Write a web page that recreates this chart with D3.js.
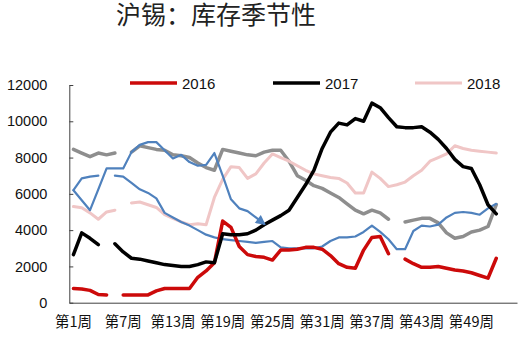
<!DOCTYPE html>
<html>
<head>
<meta charset="utf-8">
<script src="https://cdn.jsdelivr.net/npm/d3@7/dist/d3.min.js"></script>
<style>
  html, body { margin: 0; padding: 0; background: #fff; }
  svg { display: block; }
</style>
</head>
<body>
<svg id="chart" width="525" height="340"></svg>
<script>
// ---- data (weeks 1..52, null = missing week) ----
const weeks = d3.range(1, 53);
const tickWeeks = [1, 7, 13, 19, 25, 31, 37, 43, 49];
const yTicks = [0, 2000, 4000, 6000, 8000, 10000, 12000];
const title = "沪锡：库存季节性";

const s2016 = [780, 760, 680, 450, 430, null, 430, 430, 430, 430,
  650, 780, 780, 780, 780, 1400, 1750, 2200, 4500, 4150,
  3100, 2650, 2550, 2500, 2350, 2900, 2900, 2950, 3050, 3050,
  2950, 2600, 2150, 1950, 1900, 2900, 3600, 3650, 2700, null,
  2400, 2150, 1950, 1950, 2000, 1900, 1800, 1750, 1650, 1500,
  1350, 2450];

const s2017 = [2650, 3850, 3550, 3200, null, 3250, 2800, 2450, 2400, 2300,
  2200, 2100, 2050, 2000, 2000, 2100, 2250, 2200, 3800, 3750,
  3750, 3800, 4000, 4300, 4550, 4800, 5100, 5800, 6500, 7300,
  8500, 9400, 9900, 9800, 10150, 10000, 11000, 10750, 10200, 9700,
  9650, 9650, 9700, 9400, 9000, 8500, 7900, 7500, 7400, 6500,
  5400, 4900];

const s2018 = [5300, 5230, 4950, 4600, 5000, 5100, null, 5500, 5550, 5400,
  5250, 4850, 4650, 4450, 4300, 4350, 4300, 5800, 6800, 7500,
  7450, 6850, 7100, 7700, 8200, 8000, 7800, 7550, 7300, 7100,
  7000, 6900, 6850, 6600, 6050, 6050, 7200, 6850, 6400, 6500,
  6650, 7000, 7300, 7800, 8000, 8200, 8650, 8500, 8400, 8350,
  8300, 8250];

const sGray = [8450, 8250, 8050, 8250, 8150, 8250, null, 8300, 8650, 8550,
  8450, 8400, 8150, 8100, 8000, 7700, 7450, 7300, 8450, 8350,
  8250, 8150, 8100, 8300, 8400, 8400, 7800, 7000, 6750, 6450,
  6300, 6050, 5800, 5450, 5100, 4900, 5100, 4950, 4600, null,
  4450, 4550, 4650, 4650, 4400, 3850, 3550, 3650, 3900, 4000,
  4200, 5400];

const sBlueA = [6200, 6850, 6950, 7000, null, 7000, 6950, 6600, 6250, 6050,
  5750, 4950, 4700, 4450, 4250, 4000, 3750, 3600, 3500, 3450,
  3400, 3350, 3300, 3350, 3400, 3050, 3000, 3000, 3000, 3000,
  3100, 3400, 3600, 3600, 3650, 3900, 4250, 3900, 3500, 2950,
  2950, 3950, 4250, 4200, 4300, 4700, 4950, 5000, 4950, 4850,
  5200, 5450];

const sBlueB = [6200, 5650, 5100, 6250, 7400, 7400, 7400, 8300, 8700, 8850,
  8850, 8400, 7950, 8150, 7750, 7550, 7600, 8250, 7000, 5700,
  5200, 5050, 4700, 4350];

const legendNames = ["2016", "2017", "2018"];

// ---- layout ----
const svg = d3.select("#chart");
const plotLeft = 69.3, plotRight = 517, plotTop = 85, plotBottom = 302.7;

const x = d3.scaleBand().domain(d3.range(1, 55)).range([plotLeft, plotRight]).padding(0);
const xc = w => x(w) + x.bandwidth() / 2;
const y = d3.scaleLinear().domain([0, 12000]).range([plotBottom, plotTop]);

// title
svg.append("text")
  .attr("x", 216).attr("y", 24)
  .attr("text-anchor", "middle")
  .attr("font-family", "'Liberation Sans', 'Noto Sans CJK SC', sans-serif")
  .attr("font-size", 25)
  .attr("fill", "#222")
  .text(title);

// y axis
const yAxis = d3.axisLeft(y).tickValues(yTicks).tickSizeInner(-4).tickSizeOuter(0).tickPadding(22)
  .tickFormat(d3.format("d"));
const gy = svg.append("g").attr("transform", `translate(${plotLeft},0)`).call(yAxis);
gy.select(".domain").attr("stroke", "#404040");
gy.selectAll(".tick line").attr("stroke", "#404040");
gy.selectAll(".tick text")
  .attr("font-family", "'Liberation Sans', Arial, sans-serif")
  .attr("font-size", 14.5).attr("fill", "#111");

// x axis
const xAxis = d3.axisBottom(x).tickValues(tickWeeks).tickSize(0).tickPadding(14)
  .tickFormat(d => `第${d}周`);
const gx = svg.append("g").attr("transform", `translate(0,${plotBottom})`).call(xAxis);
gx.select(".domain").attr("stroke", "#404040");
gx.selectAll(".tick text")
  .attr("font-family", "'Noto Sans CJK SC', sans-serif")
  .attr("font-size", 14.5).attr("fill", "#111");

// arrow marker
svg.append("defs").append("marker")
  .attr("id", "arrow")
  .attr("viewBox", "0 0 10 10")
  .attr("refX", 8).attr("refY", 5)
  .attr("markerWidth", 11).attr("markerHeight", 10)
  .attr("markerUnits", "userSpaceOnUse")
  .attr("orient", "auto")
  .append("path").attr("d", "M0,0 L10,5 L0,10 Z").attr("fill", "#4F81BD");

const line = d3.line()
  .defined(d => d.v != null)
  .x(d => xc(d.w))
  .y(d => y(d.v));

function toPts(arr) { return arr.map((v, i) => ({ w: weeks[i], v })); }

const series = [
  { data: sGray, color: "#8E8E8E", width: 3.5 },
  { data: s2018, color: "#F0C6C6", width: 3 },
  { data: sBlueA, color: "#4F81BD", width: 2.2 },
  { data: s2016, color: "#CC0A0A", width: 3.5 },
  { data: s2017, color: "#000000", width: 3.5 },
  { data: sBlueB, color: "#4F81BD", width: 2.2, arrow: true }
];

const gl = svg.append("g").attr("fill", "none").attr("stroke-linejoin", "round").attr("stroke-linecap", "round");
series.forEach(s => {
  const p = gl.append("path")
    .datum(toPts(s.data))
    .attr("d", line)
    .attr("stroke", s.color)
    .attr("stroke-width", s.width);
  if (s.arrow) p.attr("marker-end", "url(#arrow)");
});

// legend
const legendColors = ["#CC0A0A", "#000000", "#F0C6C6"];
const legendX = [130, 273, 415];
const legendW = [3.5, 3.5, 3];
legendNames.forEach((n, i) => {
  const g = svg.append("g").attr("transform", `translate(${legendX[i]},83)`);
  g.append("line").attr("x1", 0).attr("x2", 47).attr("y1", 0).attr("y2", 0)
    .attr("stroke", legendColors[i]).attr("stroke-width", legendW[i]);
  g.append("text").attr("x", 52).attr("y", 5.5)
    .attr("font-family", "'Liberation Sans', Arial, sans-serif")
    .attr("font-size", 15).attr("fill", "#111")
    .text(n);
});
</script>
</body>
</html>
